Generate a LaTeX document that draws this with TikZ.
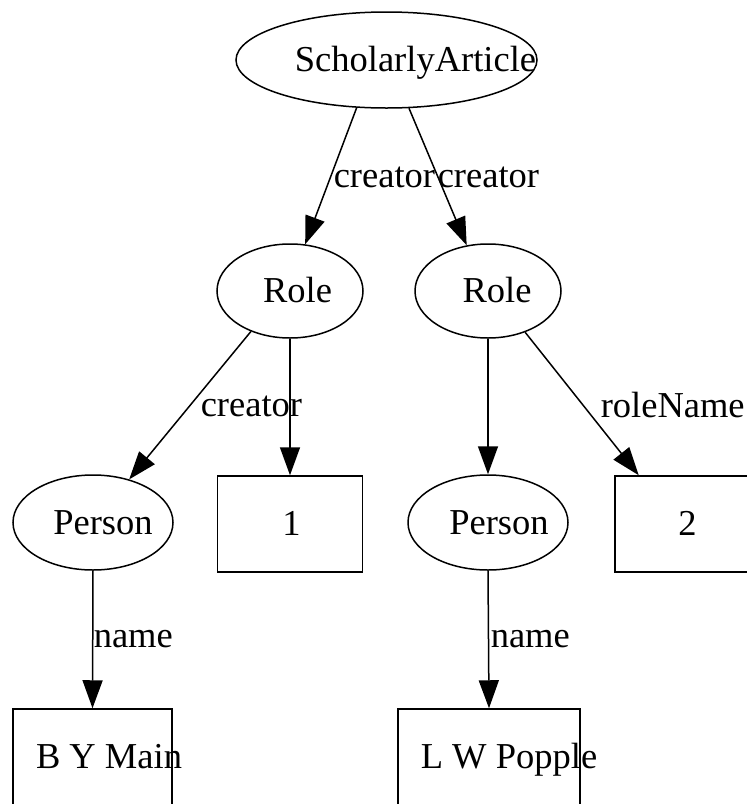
\documentclass[tikz,border=0pt]{standalone}
\usepackage{fontspec}
\setmainfont{Liberation Serif}
\usetikzlibrary{shapes.geometric,arrows.meta}

% text pushed right inside its shape, as the renderer left it
\newcommand{\offtext}[2]{\makebox[0pt]{\hspace*{#1}#2}}

\tikzset{
  oval/.style={draw, ellipse, inner sep=0pt, text height=30pt, text depth=7pt},
  box/.style={draw, rectangle, inner sep=0pt, minimum height=96pt, text height=30pt, text depth=7pt},
  lbl/.style={anchor=base west, inner sep=0pt},
}

\begin{document}
\begin{tikzpicture}[x=1pt, y=-1pt, line width=1.5pt, >={Triangle[length=28pt,width=20pt]},
    every node/.append style={font=\fontsize{36.5}{40}\selectfont}]
    \useasboundingbox (0,0) rectangle (747,804);
    \clip (0,0) rectangle (747,804);

    \node[oval, minimum width=301pt, minimum height=96pt] (sa) at (386.5,60) {\offtext{58pt}{ScholarlyArticle}};

    \node[oval, minimum width=146pt, minimum height=94pt] (role1) at (290,291) {\offtext{15pt}{Role}};
    \node[oval, minimum width=146pt, minimum height=94pt] (role2) at (488,291) {\offtext{18pt}{Role}};

    \node[oval, minimum width=160pt, minimum height=95pt] (person1) at (93,522.5) {\offtext{20pt}{Person}};
    \node[box, minimum width=145pt] (box1) at (290,524) {\offtext{3pt}{1}};
    \node[oval, minimum width=160pt, minimum height=95pt] (person2) at (488,522.5) {\offtext{22pt}{Person}};
    \node[box, minimum width=145pt] (box2) at (687.5,524) {\offtext{0pt}{2}};

    \node[box, minimum width=159pt] (bym) at (92.5,757) {\offtext{33pt}{B Y Main}};
    \node[box, minimum width=182pt] (lwp) at (489,757) {\offtext{40pt}{L W Popple}};

    \draw[->] (sa.238) -- (role1.72);
    \draw[->] (sa.295) -- (role2.115);
    \draw[->] (role1.226) -- (person1.50);
    \draw[->] (role1.south) -- (box1.north);
    \draw[->] (role2.south) -- (person2.north);
    \draw[->] (role2.312) -- (box2.135);
    \draw[->] (person1.south) -- (bym.north);
    \draw[->] (person2.south) -- (lwp.north);

    \node[lbl] (lc1) at (333,187) {creator};
    \node[lbl] (lc2) at (437,187) {creator};
    \node[lbl] (lc3) at (200,416) {creator};
    \node[lbl] (lrn) at (600,417) {roleName};
    \node[lbl] (ln1) at (93,647) {name};
    \node[lbl] (ln2) at (490,647) {name};
\end{tikzpicture}
\end{document}
